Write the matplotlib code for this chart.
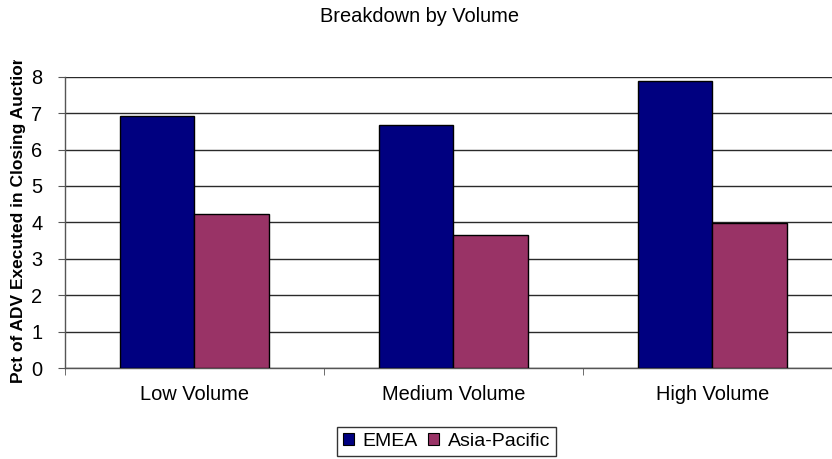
import matplotlib
matplotlib.use("Agg")
import matplotlib.pyplot as plt
import numpy as np
from matplotlib.patches import Patch
from matplotlib.transforms import Bbox

plt.rcParams['font.family'] = ['Liberation Sans', 'DejaVu Sans']

categories = ["Low Volume", "Medium Volume", "High Volume"]
emea = [6.93, 6.68, 7.88]
asia_pacific = [4.23, 3.66, 3.98]
series_names = ["EMEA", "Asia-Pacific"]
colors = ["#000080", "#993366"]

W, H = 832, 459
fig = plt.figure(figsize=(W/100, H/100), dpi=100)
left_px, bottom_px, top_px, cat_px = 64.7, 368, 76.7, 259
ax = fig.add_axes([left_px/W, 1-bottom_px/H, 3*cat_px/W, (bottom_px-top_px)/H])

x = np.arange(len(categories))
w = 0.288
ax.bar(x - w/2, emea, width=w, color=colors[0], edgecolor="#000000", linewidth=1, zorder=3)
ax.bar(x + w/2, asia_pacific, width=w, color=colors[1], edgecolor="#000000", linewidth=1, zorder=3)

ax.set_xlim(-0.5, len(categories) - 0.5)
ax.set_ylim(0, 8)
ax.set_yticks(range(0, 9))
ax.yaxis.grid(True, color="#2a2a2a", linewidth=1)
ax.set_axisbelow(True)

ax.set_xticks(x)
ax.set_xticklabels(categories, fontsize=14.4)
ax.set_xticks(np.arange(-0.5, len(categories)), minor=True)
ax.tick_params(axis='x', which='major', length=0, pad=12)
ax.tick_params(axis='x', which='minor', length=5, direction='out', color='#555555')
ax.tick_params(axis='y', length=5, direction='out', labelsize=14.4, color='#555555', pad=11)

for s in ['top', 'right']:
    ax.spines[s].set_visible(False)
for s in ['left', 'bottom']:
    ax.spines[s].set_color('#555555')
    ax.spines[s].set_linewidth(1)

ylab = fig.text(18.5/W, 1-383/H, "Pct of ADV Executed in Closing Auction", rotation=90,
                ha='center', va='bottom', fontsize=12.5, fontweight='bold')
ylab.set_clip_box(Bbox.from_extents(0, 0, W, H-60))
ylab.set_clip_on(True)

fig.text(420/W, 1-22/H, "Breakdown by Volume", ha='center', va='baseline', fontsize=14.4)

handles = [Patch(facecolor=c, edgecolor='black', linewidth=0.8) for c in colors]
leg = fig.legend(handles, series_names, loc='upper left', bbox_to_anchor=(337/W, 1-427/H),
                 ncol=2, frameon=True, fancybox=False, fontsize=14, handlelength=0.57,
                 handleheight=0.57, handletextpad=0.46, columnspacing=0.5, borderpad=0.3,
                 borderaxespad=0)
leg.get_frame().set_edgecolor('black')
leg.get_frame().set_linewidth(1)

fig.savefig("out.png", dpi=100)
